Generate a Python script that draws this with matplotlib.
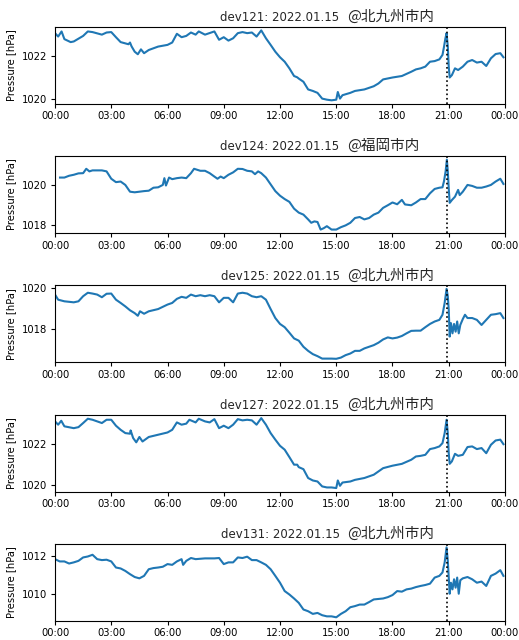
import datetime as dt
import matplotlib
matplotlib.use("Agg")
import matplotlib.pyplot as plt
import matplotlib.dates as mdates
from matplotlib.ticker import MultipleLocator

plt.rcParams['font.family'] = ['DejaVu Sans', 'Noto Sans CJK JP']

DAY = "2022.01.15"
ARRIVAL = "20:54"  # 気圧波到達

# dev121 @北九州市内
t121 = ["00:00", "00:10", "00:21", "00:30", "00:50", "01:00", "01:30", "01:45", "02:00", "02:30",
        "02:45", "03:00", "03:15", "03:30", "03:55", "04:00", "04:05", "04:15", "04:25", "04:35",
        "04:45", "05:00", "05:30", "06:00", "06:15", "06:30", "06:45", "07:00", "07:15", "07:30",
        "07:40", "08:00", "08:30", "08:45", "09:00", "09:15", "09:30", "09:45", "10:00", "10:15",
        "10:30", "10:45", "11:00", "11:15", "11:30", "11:45", "12:00", "12:15", "12:30", "12:45",
        "12:55", "13:00", "13:15", "13:30", "13:45", "14:00", "14:15", "14:30", "14:45", "15:00",
        "15:05", "15:12", "15:20", "15:45", "16:00", "16:30", "17:00", "17:15", "17:30", "18:00",
        "18:30", "19:00", "19:15", "19:30", "19:45", "20:00", "20:15", "20:30", "20:40", "20:45",
        "20:49", "20:53", "20:57", "21:00", "21:03", "21:10", "21:20", "21:30", "21:45", "22:00",
        "22:15", "22:30", "22:45", "23:00", "23:15", "23:30", "23:45", "23:55"]
p121 = [1023.07, 1022.91, 1023.15, 1022.79, 1022.65, 1022.68, 1022.94, 1023.15, 1023.12, 1023.00,
        1023.10, 1023.12, 1022.88, 1022.65, 1022.55, 1022.63, 1022.45, 1022.20, 1022.08, 1022.31,
        1022.13, 1022.28, 1022.44, 1022.52, 1022.63, 1023.04, 1022.88, 1022.94, 1023.10, 1023.00,
        1023.15, 1023.00, 1023.15, 1022.76, 1022.88, 1022.72, 1022.83, 1023.07, 1023.12, 1023.07,
        1023.10, 1022.91, 1023.20, 1022.83, 1022.52, 1022.20, 1021.94, 1021.73, 1021.42, 1021.06,
        1021.00, 1020.94, 1020.79, 1020.43, 1020.36, 1020.27, 1020.00, 1019.95, 1019.92, 1019.95,
        1020.31, 1020.00, 1020.16, 1020.27, 1020.36, 1020.43, 1020.58, 1020.71, 1020.90, 1020.99,
        1021.06, 1021.26, 1021.37, 1021.42, 1021.50, 1021.73, 1021.76, 1021.84, 1022.05, 1022.44,
        1022.80, 1023.07, 1022.45, 1021.50, 1020.99, 1021.10, 1021.42, 1021.34, 1021.50, 1021.73,
        1021.81, 1021.69, 1021.73, 1021.53, 1021.89, 1022.09, 1022.13, 1021.94]

# dev124 @福岡市内
t124 = ["00:16", "00:30", "00:45", "01:00", "01:15", "01:30", "01:40", "01:50", "02:00", "02:30",
        "02:45", "03:00", "03:15", "03:30", "03:45", "04:00", "04:15", "04:30", "04:45", "05:00",
        "05:15", "05:30", "05:45", "05:50", "05:55", "06:05", "06:15", "06:30", "06:45", "07:00",
        "07:15", "07:25", "07:45", "08:00", "08:15", "08:30", "08:40", "08:50", "09:00", "09:15",
        "09:30", "09:45", "10:00", "10:15", "10:30", "10:40", "10:50", "11:00", "11:15", "11:30",
        "11:45", "12:00", "12:15", "12:30", "12:45", "13:00", "13:15", "13:30", "13:40", "13:50",
        "14:00", "14:10", "14:20", "14:30", "14:45", "15:00", "15:15", "15:30", "15:45", "16:00",
        "16:15", "16:30", "16:45", "17:00", "17:15", "17:30", "17:45", "18:00", "18:15", "18:30",
        "18:40", "19:00", "19:15", "19:30", "19:45", "20:00", "20:15", "20:30", "20:40", "20:45",
        "20:50", "20:54", "20:57", "21:00", "21:03", "21:10", "21:20", "21:30", "21:35", "21:45",
        "22:00", "22:15", "22:30", "22:45", "23:00", "23:15", "23:30", "23:45", "23:55"]
p124 = [1020.37, 1020.37, 1020.46, 1020.51, 1020.58, 1020.59, 1020.81, 1020.68, 1020.73, 1020.73,
        1020.68, 1020.31, 1020.14, 1020.17, 1020.00, 1019.66, 1019.63, 1019.66, 1019.69, 1019.71,
        1019.86, 1019.88, 1020.00, 1020.34, 1019.97, 1020.37, 1020.29, 1020.34, 1020.37, 1020.34,
        1020.59, 1020.81, 1020.71, 1020.71, 1020.59, 1020.42, 1020.31, 1020.42, 1020.34, 1020.51,
        1020.63, 1020.81, 1020.80, 1020.71, 1020.68, 1020.54, 1020.68, 1020.59, 1020.37, 1020.03,
        1019.69, 1019.46, 1019.29, 1019.15, 1018.81, 1018.61, 1018.51, 1018.27, 1018.10, 1018.17,
        1018.14, 1017.76, 1017.83, 1017.93, 1017.76, 1017.76, 1017.88, 1017.97, 1018.10, 1018.34,
        1018.39, 1018.27, 1018.34, 1018.51, 1018.61, 1018.85, 1018.98, 1019.12, 1019.03, 1019.25,
        1019.02, 1018.98, 1019.12, 1019.29, 1019.29, 1019.58, 1019.80, 1019.86, 1019.88, 1020.20,
        1020.68, 1021.27, 1020.68, 1019.83, 1019.10, 1019.24, 1019.41, 1019.75, 1019.49, 1019.66,
        1020.00, 1019.95, 1019.86, 1019.86, 1019.92, 1020.00, 1020.17, 1020.31, 1020.05]

# dev125 @北九州市内
t125 = ["00:00", "00:10", "00:30", "01:00", "01:15", "01:30", "01:45", "02:00", "02:15", "02:30",
        "02:45", "03:00", "03:15", "03:30", "03:45", "04:00", "04:15", "04:25", "04:32", "04:45",
        "05:00", "05:30", "06:00", "06:15", "06:30", "06:45", "07:00", "07:15", "07:30", "07:45",
        "08:00", "08:15", "08:30", "08:45", "09:00", "09:15", "09:30", "09:45", "10:00", "10:15",
        "10:30", "10:45", "11:00", "11:15", "11:30", "11:45", "12:00", "12:15", "12:30", "12:45",
        "13:00", "13:15", "13:30", "13:45", "14:00", "14:15", "14:30", "14:45", "15:00", "15:15",
        "15:30", "15:45", "16:00", "16:15", "16:30", "17:00", "17:15", "17:30", "17:45", "18:00",
        "18:15", "18:30", "18:45", "19:00", "19:15", "19:30", "19:45", "20:00", "20:15", "20:30",
        "20:40", "20:47", "20:53", "20:57", "21:00", "21:03", "21:07", "21:12", "21:17", "21:22",
        "21:27", "21:32", "21:37", "21:45", "21:52", "22:00", "22:15", "22:30", "22:45", "23:00",
        "23:15", "23:30", "23:45", "23:55"]
p125 = [1019.70, 1019.45, 1019.37, 1019.32, 1019.37, 1019.62, 1019.79, 1019.75, 1019.70, 1019.57,
        1019.74, 1019.75, 1019.45, 1019.29, 1019.12, 1018.93, 1018.79, 1018.66, 1018.88, 1018.76,
        1018.88, 1018.99, 1019.21, 1019.29, 1019.49, 1019.59, 1019.54, 1019.70, 1019.62, 1019.67,
        1019.62, 1019.67, 1019.62, 1019.32, 1019.54, 1019.54, 1019.32, 1019.75, 1019.79, 1019.75,
        1019.62, 1019.57, 1019.62, 1019.45, 1018.99, 1018.55, 1018.26, 1018.10, 1017.83, 1017.55,
        1017.44, 1017.14, 1016.94, 1016.78, 1016.68, 1016.56, 1016.56, 1016.56, 1016.55, 1016.61,
        1016.73, 1016.81, 1016.94, 1016.94, 1017.06, 1017.22, 1017.34, 1017.50, 1017.60, 1017.55,
        1017.59, 1017.67, 1017.80, 1017.92, 1017.93, 1017.93, 1018.10, 1018.26, 1018.38, 1018.46,
        1018.71, 1019.29, 1019.98, 1019.62, 1018.96, 1017.64, 1018.30, 1017.80, 1018.26, 1017.88,
        1018.38, 1017.80, 1018.21, 1018.50, 1018.71, 1018.55, 1018.55, 1018.46, 1018.21, 1018.46,
        1018.71, 1018.74, 1018.79, 1018.55]

# dev127 @北九州市内
t127 = ["00:00", "00:10", "00:20", "00:30", "01:00", "01:15", "01:30", "01:45", "02:00", "02:30",
        "02:45", "03:00", "03:15", "03:30", "03:45", "04:00", "04:02", "04:10", "04:20", "04:30",
        "04:40", "05:00", "05:30", "06:00", "06:15", "06:30", "06:45", "07:00", "07:10", "07:30",
        "07:40", "08:00", "08:15", "08:30", "08:45", "09:00", "09:15", "09:30", "09:45", "10:00",
        "10:15", "10:30", "10:45", "11:00", "11:15", "11:30", "11:45", "12:00", "12:15", "12:30",
        "12:45", "12:55", "13:00", "13:15", "13:30", "13:45", "14:00", "14:15", "14:30", "14:45",
        "15:00", "15:05", "15:12", "15:20", "15:45", "16:00", "16:30", "17:00", "17:15", "17:30",
        "18:00", "18:30", "19:00", "19:15", "19:30", "19:45", "20:00", "20:15", "20:30", "20:40",
        "20:47", "20:53", "20:57", "21:00", "21:03", "21:10", "21:20", "21:30", "21:45", "22:00",
        "22:15", "22:30", "22:45", "23:00", "23:15", "23:30", "23:45", "23:55"]
p127 = [1023.09, 1022.93, 1023.12, 1022.85, 1022.76, 1022.81, 1023.01, 1023.22, 1023.17, 1023.01,
        1023.17, 1023.17, 1022.88, 1022.68, 1022.52, 1022.49, 1022.65, 1022.28, 1022.07, 1022.33,
        1022.11, 1022.33, 1022.44, 1022.55, 1022.68, 1023.04, 1022.93, 1022.98, 1023.17, 1023.04,
        1023.22, 1023.09, 1023.04, 1023.20, 1022.76, 1022.88, 1022.76, 1022.93, 1023.20, 1023.14,
        1023.17, 1023.14, 1022.93, 1023.25, 1022.93, 1022.52, 1022.20, 1021.90, 1021.71, 1021.35,
        1020.98, 1020.98, 1020.86, 1020.76, 1020.33, 1020.21, 1020.16, 1019.92, 1019.87, 1019.87,
        1019.84, 1020.21, 1019.95, 1020.11, 1020.16, 1020.24, 1020.33, 1020.49, 1020.65, 1020.81,
        1020.93, 1021.02, 1021.22, 1021.38, 1021.41, 1021.46, 1021.74, 1021.79, 1021.87, 1022.03,
        1022.52, 1023.17, 1022.52, 1021.54, 1021.02, 1021.14, 1021.51, 1021.41, 1021.46, 1021.84,
        1021.87, 1021.74, 1021.79, 1021.54, 1021.95, 1022.16, 1022.20, 1021.98]

# dev131 @北九州市内
t131 = ["00:00", "00:15", "00:30", "00:45", "01:00", "01:15", "01:30", "01:45", "02:00", "02:15",
        "02:30", "02:45", "03:00", "03:15", "03:30", "03:45", "04:00", "04:15", "04:30", "04:45",
        "05:00", "05:15", "05:30", "05:45", "06:00", "06:15", "06:30", "06:45", "06:50", "07:00",
        "07:15", "07:30", "08:00", "08:30", "08:45", "09:00", "09:15", "09:30", "09:45", "10:00",
        "10:15", "10:30", "10:45", "11:00", "11:15", "11:30", "11:45", "12:00", "12:15", "12:30",
        "12:45", "13:00", "13:15", "13:30", "13:45", "14:00", "14:15", "14:30", "14:45", "15:00",
        "15:15", "15:30", "15:45", "16:00", "16:15", "16:30", "16:45", "17:00", "17:30", "17:45",
        "18:00", "18:15", "18:30", "18:45", "19:00", "19:15", "19:30", "19:45", "20:00", "20:15",
        "20:30", "20:40", "20:47", "20:53", "20:57", "21:00", "21:03", "21:07", "21:12", "21:17",
        "21:22", "21:27", "21:32", "21:37", "21:45", "22:00", "22:15", "22:30", "22:45", "23:00",
        "23:15", "23:30", "23:45", "23:55"]
p131 = [1011.82, 1011.70, 1011.70, 1011.59, 1011.65, 1011.73, 1011.91, 1011.96, 1012.05, 1011.82,
        1011.77, 1011.79, 1011.70, 1011.38, 1011.33, 1011.20, 1011.03, 1010.88, 1010.81, 1010.94,
        1011.29, 1011.35, 1011.38, 1011.42, 1011.56, 1011.52, 1011.70, 1011.82, 1011.52, 1011.73,
        1011.88, 1011.82, 1011.86, 1011.86, 1011.88, 1011.56, 1011.65, 1011.65, 1011.91, 1011.88,
        1011.95, 1011.77, 1011.77, 1011.65, 1011.52, 1011.29, 1010.94, 1010.58, 1010.14, 1009.96,
        1009.75, 1009.52, 1009.17, 1009.08, 1008.94, 1008.99, 1008.87, 1008.81, 1008.81, 1008.76,
        1008.94, 1009.08, 1009.29, 1009.35, 1009.43, 1009.43, 1009.56, 1009.70, 1009.75, 1009.82,
        1009.93, 1010.14, 1010.11, 1010.23, 1010.27, 1010.35, 1010.41, 1010.46, 1010.53, 1010.85,
        1010.94, 1011.12, 1011.65, 1012.44, 1011.73, 1010.85, 1010.00, 1010.58, 1010.23, 1010.76,
        1010.32, 1010.85, 1010.00, 1010.71, 1010.81, 1010.88, 1010.76, 1010.58, 1010.64, 1010.41,
        1010.94, 1011.06, 1011.24, 1010.94]

devices = ["dev121", "dev124", "dev125", "dev127", "dev131"]
places = ["@北九州市内", "@福岡市内", "@北九州市内", "@北九州市内", "@北九州市内"]
times = [t121, t124, t125, t127, t131]
pressures = [p121, p124, p125, p127, p131]


def to_dt(hhmm):
    h, m = hhmm.split(":")
    return dt.datetime(2022, 1, 15, int(h), int(m))


start = dt.datetime(2022, 1, 15)
end = start + dt.timedelta(days=1)

fig, axes = plt.subplots(5, 1, figsize=(5.19, 6.4), dpi=100)
fig.subplots_adjust(left=0.106, right=0.973, top=0.958, bottom=0.03, hspace=0.68)

for ax, dev, place, t, p in zip(axes, devices, places, times, pressures):
    ax.plot([to_dt(s) for s in t], p, color='#1f77b4', lw=1.5)
    ax.axvline(to_dt(ARRIVAL), color='black', ls=':', lw=1.2)
    ax.set_xlim(start, end)
    ax.xaxis.set_major_locator(mdates.HourLocator(byhour=range(0, 24, 3)))
    ax.xaxis.set_major_formatter(mdates.DateFormatter('%H:%M'))
    ax.yaxis.set_major_locator(MultipleLocator(2))
    ax.tick_params(labelsize=7.2, length=3, pad=2.5)
    ax.set_ylabel('Pressure [hPa]', fontsize=7.2)
    ax.annotate(f"{dev}: {DAY}", xy=(0.5, 1), xycoords='axes fraction',
                xytext=(0, 4.2), textcoords='offset points',
                ha='center', va='baseline', fontsize=8.5, color='#262626')
    ax.annotate(place, xy=(0.649, 1), xycoords='axes fraction',
                xytext=(0, 4.2), textcoords='offset points',
                ha='left', va='baseline', fontsize=10.5, color='#262626',
                family=['Noto Sans CJK JP'])

fig.savefig('out.png', dpi=100)
